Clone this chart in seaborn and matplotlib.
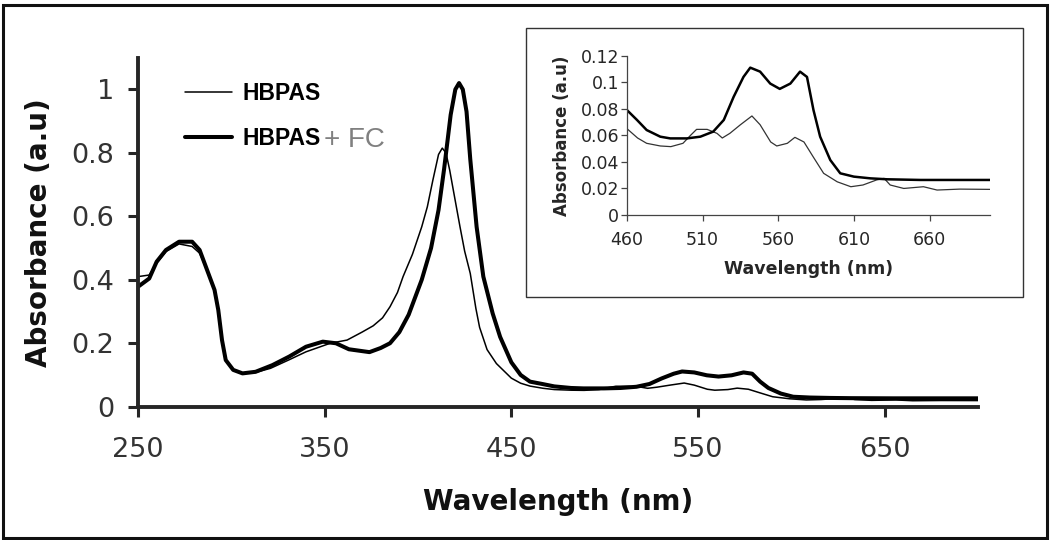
import numpy as np
import pandas as pd
import matplotlib
matplotlib.use("Agg")
import matplotlib.pyplot as plt
from matplotlib.patches import Rectangle
import seaborn as sns

sns.set_style("ticks")
plt.rcParams["font.family"] = ["DejaVu Sans"]

# spectra (wavelength nm, absorbance a.u)
wl_hbpas = [250, 256, 260, 265, 272, 279, 283, 287, 291, 293, 295, 297, 301, 306, 313,
            321, 331, 340, 353, 362, 370, 376, 381, 385, 389, 392, 397, 402, 405, 408,
            411, 413, 415, 417, 419, 422.5, 425, 428, 431, 433, 437, 442, 450, 455,
            460, 467, 473, 482, 489, 497, 502, 506, 513, 519.5, 523, 528, 535, 542.6,
            548, 555, 559, 566, 571, 577, 583, 590, 599, 608, 616, 625, 630, 634, 643,
            656, 665, 680, 700]
abs_hbpas = [0.41, 0.415, 0.452, 0.489, 0.513, 0.505, 0.484, 0.43, 0.367, 0.305, 0.21,
             0.147, 0.116, 0.105, 0.108, 0.121, 0.148, 0.173, 0.20, 0.21, 0.235, 0.255,
             0.28, 0.315, 0.36, 0.41, 0.48, 0.567, 0.63, 0.715,
             0.795, 0.815, 0.80, 0.745, 0.68, 0.567, 0.49, 0.42, 0.31, 0.25, 0.18, 0.136,
             0.09, 0.074,
             0.065, 0.058, 0.054, 0.052, 0.0515, 0.054, 0.060, 0.0645, 0.0645, 0.0615,
             0.058, 0.0615, 0.068, 0.0746, 0.068, 0.055, 0.052, 0.054, 0.0585, 0.055,
             0.044, 0.0314, 0.025, 0.0213, 0.0226, 0.0264, 0.0276, 0.0226, 0.020,
             0.0213, 0.0188, 0.0195, 0.0193]

wl_fc = [250, 256, 260, 265, 272, 279, 283, 287, 291, 293, 295, 297, 301, 306, 313,
         322, 331, 340, 349, 356, 363, 374, 380, 385, 390, 395, 402, 407, 411, 414,
         417.5, 420, 422, 424, 426, 428, 431.4, 435, 440, 444, 450, 455,
         460, 466.6, 473, 482, 488.6, 499.6, 508.5, 517, 524, 530.5, 537, 541.5, 548,
         554.7, 561, 568, 574.4, 579, 583.3, 587.7, 594.4, 601, 610, 621, 632, 654, 700]
abs_fc = [0.378, 0.404, 0.457, 0.494, 0.520, 0.520, 0.494, 0.431, 0.368, 0.305, 0.21,
          0.147, 0.116, 0.105, 0.110, 0.131, 0.158, 0.189, 0.205, 0.20, 0.181, 0.172,
          0.185, 0.20, 0.235, 0.29, 0.40, 0.50, 0.62, 0.75,
          0.92, 1.0, 1.02, 1.0, 0.93, 0.78, 0.567, 0.41, 0.294, 0.22, 0.14, 0.10,
          0.079, 0.0716, 0.064, 0.059, 0.0577, 0.0577, 0.059, 0.0628, 0.0716, 0.089,
          0.104, 0.111, 0.108, 0.099, 0.095, 0.099, 0.108, 0.104, 0.079, 0.059, 0.0414,
          0.0314, 0.0289, 0.0276, 0.0269, 0.0264, 0.0264]

df_hbpas = pd.DataFrame({"wavelength": wl_hbpas, "absorbance": abs_hbpas})
df_fc = pd.DataFrame({"wavelength": wl_fc, "absorbance": abs_fc})

fig = plt.figure(figsize=(10.5, 5.4), dpi=100)

# main plot
ax = fig.add_axes([138 / 1050, 1 - 406.7 / 540, 840 / 1050, 349 / 540])
sns.lineplot(data=df_hbpas, x="wavelength", y="absorbance", ax=ax, color="black",
             linewidth=1.1, label="HBPAS", sort=False)
sns.lineplot(data=df_fc, x="wavelength", y="absorbance", ax=ax, color="black",
             linewidth=2.9, label="HBPAS", sort=False)
ax.set_xlim(250, 700)
ax.set_ylim(0, 1.1)
ax.set_xticks([250, 350, 450, 550, 650])
ax.set_yticks([0, 0.2, 0.4, 0.6, 0.8, 1.0])
ax.set_yticklabels(["0", "0.2", "0.4", "0.6", "0.8", "1"])
for s in ["top", "right"]:
    ax.spines[s].set_visible(False)
for s in ["left", "bottom"]:
    ax.spines[s].set_linewidth(2.8)
ax.tick_params(axis="both", length=7, width=2.2, labelsize=19.5, labelcolor="#333333")
ax.tick_params(axis="x", pad=15)
ax.tick_params(axis="y", pad=10)
ax.set_xlabel("Wavelength (nm)", fontsize=20, fontweight="bold", color="#111111")
ax.set_ylabel("Absorbance (a.u)", fontsize=20, fontweight="bold", color="#111111")
ax.xaxis.set_label_coords(0.5, -0.232)
ax.yaxis.set_label_coords(-0.101, 0.5)

leg = ax.legend(loc="upper left", bbox_to_anchor=(185 / 1050, 1 - 82 / 540),
                bbox_transform=fig.transFigure, frameon=False, borderaxespad=0,
                borderpad=0, handlelength=2.05, handletextpad=0.48, labelspacing=0.95,
                prop={"family": "Liberation Sans", "weight": "bold", "size": 16.5})
for t in leg.get_texts():
    t.set_color("black")
fig.text(324 / 1050, 1 - 147 / 540, "+ FC", fontsize=20, color="#808080",
         family="Liberation Sans", ha="left", va="baseline")

# inset
axin = fig.add_axes([627 / 1050, 1 - 215 / 540, 363 / 1050, 159.3 / 540])
sns.lineplot(data=df_hbpas, x="wavelength", y="absorbance", ax=axin, color="#333333",
             linewidth=0.9, sort=False, legend=False)
sns.lineplot(data=df_fc, x="wavelength", y="absorbance", ax=axin, color="black",
             linewidth=1.8, sort=False, legend=False)
axin.set_xlim(460, 700)
axin.set_ylim(0, 0.12)
axin.set_xticks([460, 510, 560, 610, 660])
axin.set_yticks([0, 0.02, 0.04, 0.06, 0.08, 0.1, 0.12])
axin.set_yticklabels(["0", "0.02", "0.04", "0.06", "0.08", "0.1", "0.12"])
for s in ["top", "right"]:
    axin.spines[s].set_visible(False)
for s in ["left", "bottom"]:
    axin.spines[s].set_linewidth(0.9)
    axin.spines[s].set_color("#444444")
axin.tick_params(axis="both", length=4.5, width=0.9, color="#444444", labelsize=12.5)
axin.tick_params(axis="x", pad=7)
axin.tick_params(axis="y", pad=1)
axin.set_xlabel("Wavelength (nm)", fontsize=12.5, fontweight="bold", labelpad=8)
axin.set_ylabel("Absorbance (a.u)", fontsize=12, fontweight="bold", labelpad=7)

# frames
fig.patches.append(Rectangle((526 / 1050, 1 - 296.7 / 540), 497.3 / 1050, 268.4 / 540,
                             transform=fig.transFigure, fill=False, edgecolor="#333333",
                             linewidth=1.0))
fig.patches.append(Rectangle((2.5 / 1050, 1 - 538 / 540), 1044 / 1050, 533.5 / 540,
                             transform=fig.transFigure, fill=False, edgecolor="#111111",
                             linewidth=2.2))

fig.savefig("out.png", dpi=100)
